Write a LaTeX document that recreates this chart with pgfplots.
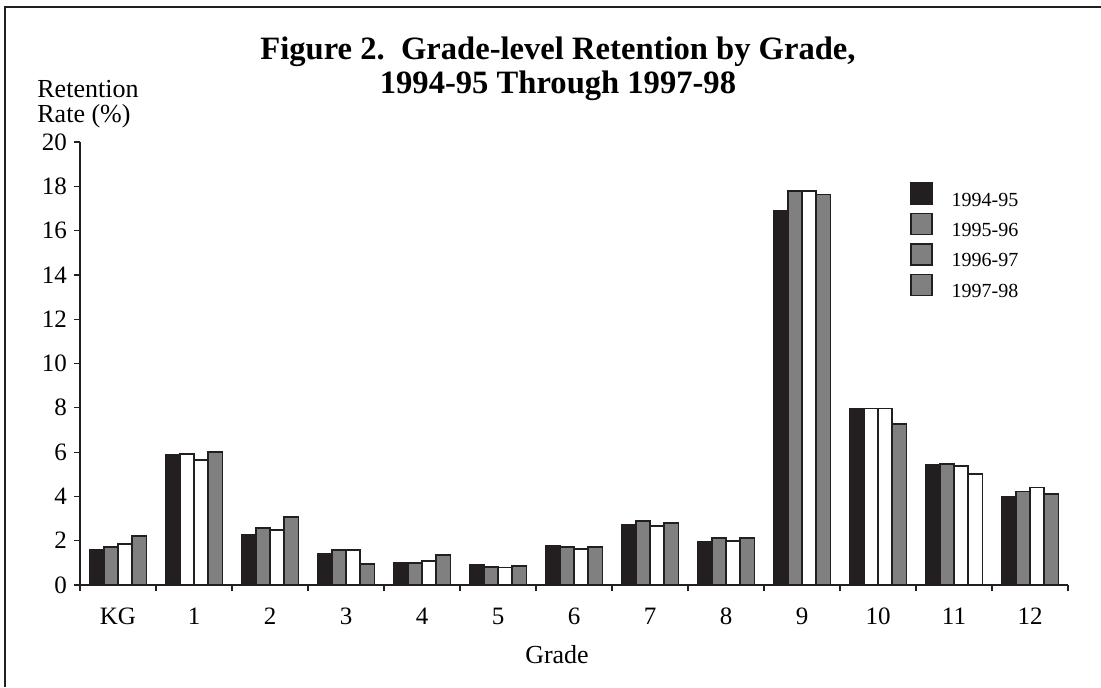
\documentclass[border=0pt]{standalone}
\usepackage{fontspec}
\setmainfont{Liberation Serif}
\usepackage{pgfplots}
\pgfplotsset{compat=1.18}
\definecolor{barblack}{HTML}{231F20}
\definecolor{bargray}{HTML}{808080}
\pgfplotsset{
  sqleg/.style={legend image code/.code={\draw[##1,line width=0.7pt] (0pt,-1.5pt) rectangle (10.5pt,9pt);}},
  barstyle/.style={ybar, bar width=0.1875, line width=0.9pt, draw=barblack, forget plot},
}
\begin{document}
\begin{tikzpicture}[x=0.5pt,y=0.5pt]
\useasboundingbox (0,0) rectangle (1101,687);
\draw[line width=0.6pt, barblack] (5,0) -- (5,680) -- (1101,680);
\node[font=\fontsize{16.3}{19}\selectfont\bfseries, anchor=base] at (558,627) {Figure 2.\ \ Grade-level Retention by Grade,};
\node[font=\fontsize{16.3}{19}\selectfont\bfseries, anchor=base] at (558,593) {1994-95 Through 1997-98};
\node[font=\fontsize{13}{15}\selectfont, anchor=base west, inner sep=0pt] at (37,589) {Retention};
\node[font=\fontsize{13}{15}\selectfont, anchor=base west, inner sep=0pt] at (37,565) {Rate (\%)};
\node[font=\fontsize{13}{15}\selectfont, anchor=base, inner sep=0pt] at (557,24) {Grade};
\begin{axis}[
  at={(40pt,51pt)}, anchor=south west,
  scale only axis, width=494pt, height=221.5pt,
  xmin=-0.5, xmax=12.5, ymin=0, ymax=20,
  axis x line=bottom, axis y line=left,
  axis line style={-, barblack, line width=0.6pt},
  xtick={0,...,12}, xticklabels={KG,1,2,3,4,5,6,7,8,9,10,11,12},
  major x tick style={draw=none},
  minor xtick={-0.5,0.5,...,12.5},
  ytick={0,2,...,20},
  tick align=outside, major tick length=3pt, minor tick length=3pt,
  tick style={barblack, line width=0.6pt},
  ticklabel style={font=\fontsize{12.5}{14}\selectfont},
  x tick label style={yshift=-5pt},
  /pgf/number format/assume math mode=true,
  legend style={at={(0.840,0.910)}, anchor=north west, draw=none, fill=none,
    inner sep=0pt, row sep=1.8pt, font=\fontsize{10}{12}\selectfont,
    nodes={inner sep=0pt},
    /tikz/every odd column/.append style={column sep=9.5pt}},
  legend cell align=left,
]
% 1994-95
\addplot[barstyle, bar shift=-0.28125, fill=barblack] coordinates {
(0,1.60) (1,5.87) (2,2.25) (3,1.39) (4,1.00) (5,0.92) (6,1.76) (7,2.71) (8,1.94) (9,16.9) (10,7.97) (11,5.40) (12,3.96)};
% 1995-96
\addplot[barstyle, bar shift=-0.09375, fill=bargray] coordinates {
(0,1.73) (2,2.59) (3,1.57) (4,0.98) (5,0.81) (6,1.73) (7,2.89) (8,2.12) (9,17.79) (11,5.46) (12,4.22)};
\addplot[barstyle, bar shift=-0.09375, fill=white] coordinates {
(1,5.93) (10,7.97)};
% 1996-97
\addplot[barstyle, bar shift=0.09375, fill=white] coordinates {
(0,1.84) (1,5.63) (2,2.50) (3,1.57) (4,1.08) (5,0.79) (6,1.63) (7,2.68) (8,2.00) (9,17.79) (10,7.97) (11,5.37) (12,4.40)};
% 1997-98
\addplot[barstyle, bar shift=0.28125, fill=bargray] coordinates {
(0,2.22) (1,6.01) (2,3.07) (3,0.96) (4,1.36) (5,0.87) (6,1.73) (7,2.81) (8,2.12) (9,17.63) (10,7.28) (12,4.12)};
\addplot[barstyle, bar shift=0.28125, fill=white] coordinates {
(11,5.00)};
\addlegendimage{sqleg, fill=barblack, draw=barblack}
\addlegendimage{sqleg, fill=bargray, draw=barblack}
\addlegendimage{sqleg, fill=bargray, draw=barblack}
\addlegendimage{sqleg, fill=bargray, draw=barblack}
\legend{1994-95,1995-96,1996-97,1997-98}
\end{axis}
\end{tikzpicture}
\end{document}
